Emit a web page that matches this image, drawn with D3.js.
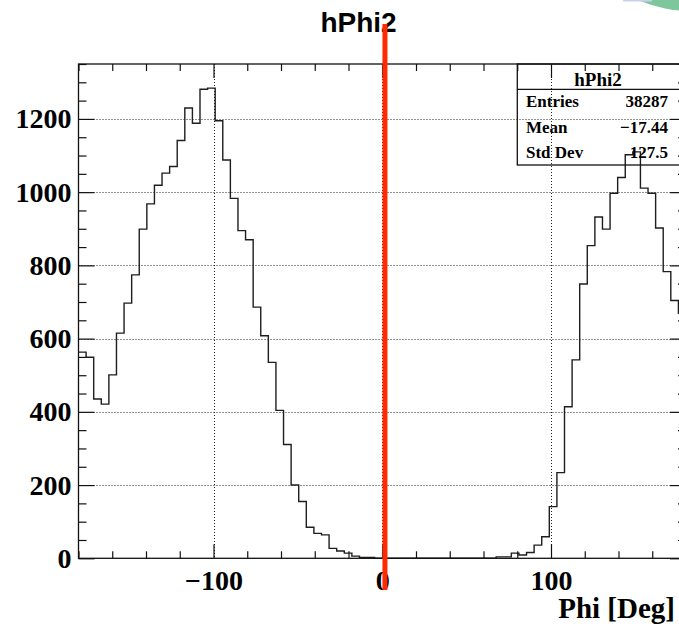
<!DOCTYPE html>
<html>
<head>
<meta charset="utf-8">
<script src="https://cdn.jsdelivr.net/npm/d3@7"></script>
<style>
  html, body { margin: 0; padding: 0; background: #fff; overflow: hidden; }
</style>
</head>
<body>
<div id="chart"></div>
<script>
// histogram content
const histName = "hPhi2";
const xTitle = "Phi [Deg]";
const phiRange = [-180, 180];
const counts = [
  563, 549, 435, 421, 501, 615, 697, 774, 899, 968,
  1019, 1052, 1070, 1141, 1230, 1188, 1281, 1284, 1195, 1088,
  983, 895, 870, 686, 608, 535, 404, 311, 200, 155,
  85, 68, 64, 27, 20, 14, 6, 2, 2, 0,
  0, 0, 0, 0, 0, 0, 0, 0, 0, 0,
  0, 0, 0, 0, 0, 4, 4, 14, 9, 16,
  36, 59, 141, 234, 414, 542, 749, 854, 932, 899,
  997, 1040, 1102, 1110, 1011, 997, 902, 783, 704, 669
];
const xMajorTicks = [-100, 0, 100];
const yMajorTicks = [0, 200, 400, 600, 800, 1000, 1200];
const yMax = 1350;
const statLabels = ["Entries", "Mean", "Std Dev"];
const statValues = ["38287", "\u221217.44", "127.5"];
const markerPhi = 1.6;

const width = 679, height = 628;
const frame = {left: 78.5, right: 686, top: 64, bottom: 558.3};
const serif = "'Liberation Serif', 'Times New Roman', serif";

const svg = d3.select("#chart").append("svg")
    .attr("width", width)
    .attr("height", height)
    .style("display", "block");

const x = d3.scaleLinear().domain(phiRange).range([frame.left, frame.right]);
const y = d3.scaleLinear().domain([0, yMax]).range([frame.bottom, frame.top]);

// decoration in the top right corner of the screenshot
svg.append("circle")
    .attr("cx", 690).attr("cy", -117).attr("r", 128)
    .attr("fill", "#80c69c");
svg.append("line")
    .attr("x1", 623).attr("x2", 652).attr("y1", 0.5).attr("y2", 0.5)
    .attr("stroke", "#c8d0ea").attr("stroke-width", 2);

// grid
const grid = svg.append("g")
    .attr("stroke", "#222")
    .attr("stroke-width", 1)
    .attr("stroke-dasharray", "1,2");
grid.selectAll("line.gx")
  .data(xMajorTicks)
  .join("line")
    .attr("class", "gx")
    .attr("x1", d => Math.round(x(d)) + 0.5)
    .attr("x2", d => Math.round(x(d)) + 0.5)
    .attr("y1", frame.top)
    .attr("y2", frame.bottom);
grid.selectAll("line.gy")
  .data(yMajorTicks.filter(d => d > 0))
  .join("line")
    .attr("class", "gy")
    .attr("x1", frame.left)
    .attr("x2", frame.right)
    .attr("y1", d => Math.round(y(d)) + 0.5)
    .attr("y2", d => Math.round(y(d)) + 0.5);

// histogram outline
const binW = (phiRange[1] - phiRange[0]) / counts.length;
const pts = counts.flatMap((c, i) => [
  [phiRange[0] + i * binW, c],
  [phiRange[0] + (i + 1) * binW, c]
]);
svg.append("path")
    .datum(pts)
    .attr("fill", "none")
    .attr("stroke", "#1e1e1e")
    .attr("stroke-width", 1.4)
    .attr("d", d3.line().x(d => x(d[0])).y(d => y(d[1])));

// axes
const xMinor = d3.range(phiRange[0], phiRange[1] + 1, 20).filter(v => !xMajorTicks.includes(v));
const yMinor = d3.range(0, yMax + 1, 50).filter(v => !yMajorTicks.includes(v));

function styleAxis(sel) {
  sel.select(".domain").remove();
  sel.selectAll(".tick line").attr("stroke", "#111").attr("stroke-width", 1.2);
  sel.attr("font-family", serif).attr("font-size", 28).attr("font-weight", "bold");
  sel.selectAll(".tick text").attr("fill", "#000");
}

svg.append("g")
    .attr("transform", `translate(0,${frame.bottom})`)
    .call(d3.axisBottom(x).tickValues(xMajorTicks).tickSize(-14).tickSizeOuter(0)
      .tickPadding(12).tickFormat(d3.format("d")))
    .call(styleAxis);
svg.append("g")
    .attr("transform", `translate(0,${frame.bottom})`)
    .call(d3.axisBottom(x).tickValues(xMinor).tickSize(-7).tickSizeOuter(0).tickFormat(""))
    .call(styleAxis);
svg.append("g")
    .attr("transform", `translate(0,${frame.top})`)
    .call(d3.axisTop(x).tickValues(xMajorTicks).tickSize(-14).tickSizeOuter(0).tickFormat(""))
    .call(styleAxis);
svg.append("g")
    .attr("transform", `translate(0,${frame.top})`)
    .call(d3.axisTop(x).tickValues(xMinor).tickSize(-7).tickSizeOuter(0).tickFormat(""))
    .call(styleAxis);

svg.append("g")
    .attr("transform", `translate(${frame.left},0)`)
    .call(d3.axisLeft(y).tickValues(yMajorTicks).tickSize(-16).tickSizeOuter(0)
      .tickPadding(7).tickFormat(d3.format("d")))
    .call(styleAxis);
svg.append("g")
    .attr("transform", `translate(${frame.left},0)`)
    .call(d3.axisLeft(y).tickValues(yMinor).tickSize(-8).tickSizeOuter(0).tickFormat(""))
    .call(styleAxis);
svg.append("g")
    .attr("transform", `translate(${frame.right},0)`)
    .call(d3.axisRight(y).tickValues(yMajorTicks).tickSize(-16).tickSizeOuter(0).tickFormat(""))
    .call(styleAxis);
svg.append("g")
    .attr("transform", `translate(${frame.right},0)`)
    .call(d3.axisRight(y).tickValues(yMinor).tickSize(-8).tickSizeOuter(0).tickFormat(""))
    .call(styleAxis);

// frame
svg.append("rect")
    .attr("x", frame.left)
    .attr("y", frame.top)
    .attr("width", frame.right - frame.left)
    .attr("height", frame.bottom - frame.top)
    .attr("fill", "none")
    .attr("stroke", "#111")
    .attr("stroke-width", 1.3);

// axis title
svg.append("text")
    .attr("x", 675)
    .attr("y", 618)
    .attr("text-anchor", "end")
    .attr("font-family", serif)
    .attr("font-size", 29)
    .attr("font-weight", "bold")
    .text(xTitle);

// histogram title
svg.append("text")
    .attr("x", 358.5)
    .attr("y", 31.5)
    .attr("text-anchor", "middle")
    .attr("font-family", "'Liberation Sans', Arial, sans-serif")
    .attr("font-size", 28)
    .attr("font-weight", "bold")
    .text(histName);

// stats box
const box = {left: 517.3, top: frame.top, right: frame.right, bottom: 165, sep: 89.3};
const stats = svg.append("g");
stats.append("rect")
    .attr("x", box.left)
    .attr("y", box.top)
    .attr("width", box.right - box.left)
    .attr("height", box.bottom - box.top)
    .attr("fill", "none")
    .attr("stroke", "#111")
    .attr("stroke-width", 1.3);
stats.append("line")
    .attr("x1", box.left).attr("x2", box.right)
    .attr("y1", box.sep).attr("y2", box.sep)
    .attr("stroke", "#111").attr("stroke-width", 1.3);
stats.append("text")
    .attr("x", 598)
    .attr("y", 86)
    .attr("text-anchor", "middle")
    .attr("font-family", serif)
    .attr("font-size", 19)
    .attr("font-weight", "bold")
    .text(histName);
const rows = stats.selectAll("g.row")
  .data(d3.zip(statLabels, statValues))
  .join("g")
    .attr("class", "row")
    .attr("font-family", serif)
    .attr("font-size", 17)
    .attr("font-weight", "bold");
rows.append("text")
    .attr("x", 526)
    .attr("y", (d, i) => 107 + i * 25.6)
    .text(d => d[0]);
rows.append("text")
    .attr("x", 668)
    .attr("y", (d, i) => 107 + i * 25.6)
    .attr("text-anchor", "end")
    .text(d => d[1]);

// red marker line
svg.append("line")
    .attr("x1", x(markerPhi)).attr("x2", x(markerPhi))
    .attr("y1", 24).attr("y2", 590)
    .attr("stroke", "#ff2a00")
    .attr("stroke-width", 5);
</script>
</body>
</html>
